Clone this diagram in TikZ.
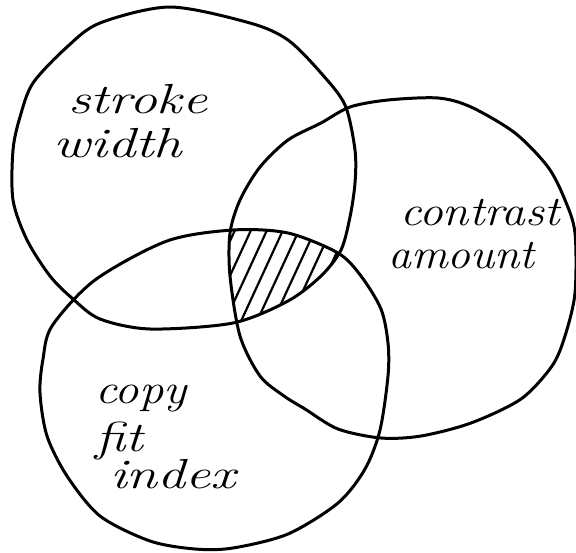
\documentclass[tikz,border=0pt]{standalone}
\usepackage{tikz}
\usetikzlibrary{positioning}

\tikzset{
    venn/.style={line width=3pt, line join=round},
    hatch/.style={line width=2.2pt, line cap=round},
    label/.style={font=\fontsize{42}{44}\selectfont\itshape, anchor=base west, inner sep=0pt}
}
% handwriting runs wider than the italic
\newcommand{\hand}[2]{\scalebox{#1}[1]{#2}}

\begin{document}
\begin{tikzpicture}[x=1pt, y=-1pt]
    \useasboundingbox (0,0) rectangle (576,552);

    % the three sets, drawn by hand
    \path[save path=\strokeset] plot[smooth cycle, tension=0.5] coordinates {
        (170,7) (250,23) (288,40) (321,73) (345,105) (355,150) (355,183)
        (350,217) (341,250) (321,276) (288,301) (233,323) (150,329) (100,319)
        (73,299) (50,276) (27,240) (13,200) (13,150) (20,117) (33,83) (67,47) (100,23)};
    \path[save path=\contrastset] plot[smooth cycle, tension=0.5] coordinates {
        (388,100) (438,98) (471,107) (515,133) (548,167) (565,200) (575,233)
        (575,293) (565,336) (552,366) (521,399) (471,423) (421,436) (381,438)
        (338,429) (305,409) (284,396) (260,376) (240,336) (230,276) (230,233)
        (240,200) (260,167) (288,140) (321,123) (350,107)};
    \path[save path=\copyfitset] plot[smooth cycle, tension=0.5] coordinates {
        (233,230) (288,233) (338,253) (361,276) (381,309) (388,343) (388,376)
        (380,430) (365,469) (338,503) (288,534) (233,548) (195,549) (150,541)
        (100,516) (67,476) (47,436) (40,393) (43,359) (52,326) (95,280) (167,241)};

    % common part
    \begin{scope}
        \clip[use path=\strokeset];
        \clip[use path=\contrastset];
        \clip[use path=\copyfitset];
        \foreach \s in {0,...,12}
            \draw[hatch] (150+\s*16,345) -- (210+\s*16,215);
    \end{scope}

    \draw[venn, use path=\strokeset];
    \draw[venn, use path=\contrastset];
    \draw[venn, use path=\copyfitset];

    \node[label] (strokelbl) at (68,113) {\hand{1.33}{stroke}};
    \node[label] (widthlbl) at (53,157) {\hand{1.35}{width}};
    \node[label] (contrastlbl) at (400,225) {\hand{1.13}{contrast}};
    \node[label] (amountlbl) at (388,268) {\hand{1.09}{amount}};
    \node[label] (copylbl) at (95,403) {\hand{1.16}{copy}};
    \node[label] (fitlbl) at (95,451) {\hand{1.3}{fit}};
    \node[label] (indexlbl) at (110,488) {\hand{1.33}{index}};
\end{tikzpicture}
\end{document}
